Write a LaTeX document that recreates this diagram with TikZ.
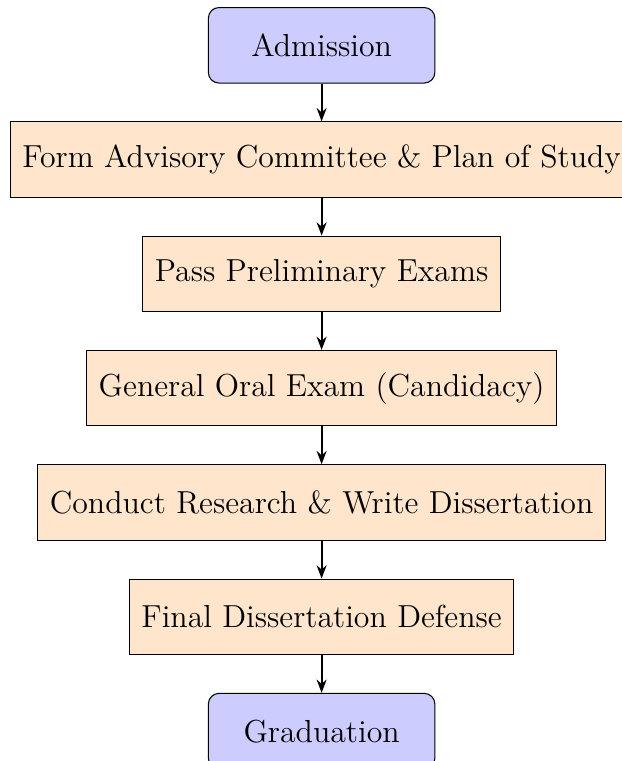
\documentclass[tikz,border=0pt]{standalone}
\usepackage{xcolor}
\usetikzlibrary{arrows.meta,positioning}
\tikzset{
  endpt/.style={rectangle, rounded corners, draw=black, fill=blue!20, minimum width=3cm, minimum height=1cm, font=\large},
  stage/.style={rectangle, draw=black, fill=orange!20, minimum height=1cm, inner xsep=4.5pt, font=\large},
  flow/.style={-{Stealth[length=5pt]}, thick},
}

\begin{document}
\begin{tikzpicture}[node distance=0.5cm]
  \useasboundingbox (-4.26,0.60) rectangle (3.97,-9.48);
  \node[endpt] (admit) at (0,0) {Admission};
  \node[stage, below=of admit] (committee) {Form Advisory Committee \& Plan of Study};
  \node[stage, below=of committee] (prelim) {Pass Preliminary Exams};
  \node[stage, below=of prelim] (oral) {General Oral Exam (Candidacy)};
  \node[stage, below=of oral] (research) {Conduct Research \& Write Dissertation};
  \node[stage, below=of research] (defense) {Final Dissertation Defense};
  \node[endpt, below=of defense] (grad) {Graduation};
  \draw[flow] (admit) -- (committee);
  \draw[flow] (committee) -- (prelim);
  \draw[flow] (prelim) -- (oral);
  \draw[flow] (oral) -- (research);
  \draw[flow] (research) -- (defense);
  \draw[flow] (defense) -- (grad);
\end{tikzpicture}
\end{document}
